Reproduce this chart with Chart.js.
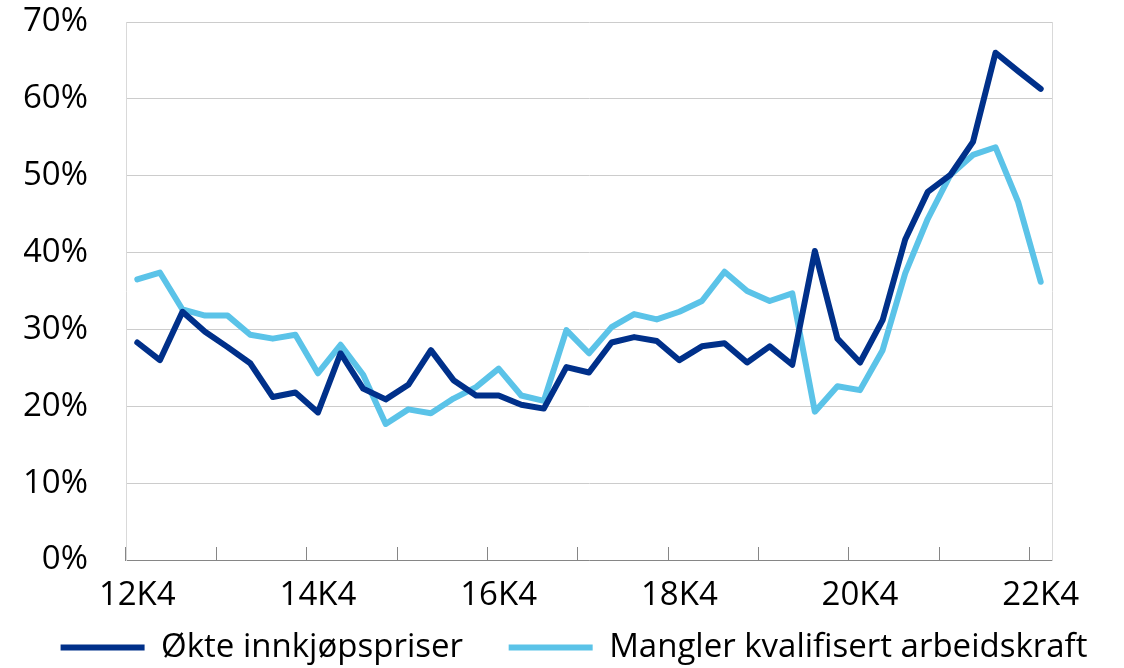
<!DOCTYPE html>
<html lang="no">
<head>
    <meta charset="UTF-8">
    <title>Innkjøpspriser og arbeidskraft</title>
    <script src="https://cdn.jsdelivr.net/npm/chart.js"></script>
    <style>
        body {
            margin: 0;
            background: #fff;
        }
        #wrap {
            width: 1124px;
            height: 668px;
            position: relative;
        }
    </style>
</head>
<body>
<div id="wrap">
    <canvas id="chart"></canvas>
</div>

<script>
    // Quarters 12K4 .. 22K4
    const quarters = [];
    for (let y = 12; y <= 22; y++) {
        for (let q = 1; q <= 4; q++) {
            if ((y === 12 && q < 4) || (y === 22 && q > 4)) continue;
            quarters.push(y + 'K' + q);
        }
    }

    // Andel bedrifter (%)
    const prices = [28.3, 26.0, 32.3, 29.7, 27.7, 25.6, 21.2, 21.8, 19.2, 26.9,
        22.3, 20.9, 22.8, 27.3, 23.4, 21.4, 21.4, 20.2, 19.7, 25.1,
        24.4, 28.3, 29.0, 28.5, 26.0, 27.8, 28.2, 25.7, 27.8, 25.4,
        40.2, 28.8, 25.7, 31.2, 41.7, 47.9, 50.1, 54.4, 66.0, 63.6, 61.3];

    const labour = [36.5, 37.4, 32.6, 31.8, 31.8, 29.3, 28.8, 29.3, 24.3, 28.0,
        24.1, 17.7, 19.6, 19.1, 21.0, 22.5, 24.9, 21.4, 20.7, 29.9,
        26.9, 30.3, 32.0, 31.3, 32.3, 33.7, 37.5, 35.0, 33.7, 34.7,
        19.3, 22.6, 22.1, 27.3, 37.3, 44.4, 50.1, 52.7, 53.7, 46.6, 36.2];

    const yTicks = [0, 10, 20, 30, 40, 50, 60, 70];

    const FONT = '"Open Sans", "Noto Sans", sans-serif';
    const FONT_SIZE = 33;

    Chart.defaults.font.family = FONT;
    Chart.defaults.font.size = FONT_SIZE;
    Chart.defaults.color = '#000';

    // default legend items, with some extra room after the first one
    function legendLabels(chart) {
        const items = Chart.defaults.plugins.legend.labels.generateLabels(chart);
        items[0].text += '   ';
        return items;
    }

    const ctx = document.getElementById('chart').getContext('2d');
    const chart = new Chart(ctx, {
        type: 'line',
        data: {
            labels: quarters,
            datasets: [
                {
                    label: 'Økte innkjøpspriser',
                    data: prices,
                    borderColor: '#00308a',
                    backgroundColor: '#00308a',
                    borderWidth: 6,
                    borderCapStyle: 'round',
                    borderJoinStyle: 'round',
                    pointRadius: 0,
                    tension: 0,
                    fill: false
                },
                {
                    label: 'Mangler kvalifisert arbeidskraft',
                    data: labour,
                    borderColor: '#5bc3e8',
                    backgroundColor: '#5bc3e8',
                    borderWidth: 6,
                    borderCapStyle: 'round',
                    borderJoinStyle: 'round',
                    pointRadius: 0,
                    tension: 0,
                    fill: false
                }
            ]
        },
        options: {
            responsive: true,
            maintainAspectRatio: false,
            animation: false,
            layout: {
                padding: { left: 24, right: 0, top: 22, bottom: -6 }
            },
            plugins: {
                tooltip: { enabled: false },
                legend: {
                    position: 'bottom',
                    labels: {
                        usePointStyle: true,
                        pointStyle: 'line',
                        pointStyleWidth: 84,
                        padding: 20,
                        color: '#000',
                        font: { size: FONT_SIZE },
                        generateLabels: legendLabels
                    }
                }
            },
            scales: {
                x: {
                    offset: true,
                    grid: {
                        offset: true,
                        drawOnChartArea: false,
                        drawTicks: true,
                        tickLength: -13,
                        tickColor: (c) => (c.index % 4 === 0 ? '#868686' : 'rgba(0,0,0,0)')
                    },
                    border: { color: '#868686', width: 1 },
                    ticks: {
                        autoSkip: false,
                        maxRotation: 0,
                        padding: 29,
                        callback: (v, i) => (i % 8 === 0 ? quarters[i] : '')
                    },
                    afterFit: (s) => {
                        s.height = 51;
                        s.paddingLeft = 0;
                        s.paddingRight = 0;
                    }
                },
                y: {
                    min: 0,
                    max: 70,
                    afterBuildTicks: (s) => { s.ticks = yTicks.map(v => ({ value: v })); },
                    grid: { color: '#cccccc', drawTicks: false },
                    border: { color: '#d9d9d9' },
                    ticks: {
                        padding: 38,
                        callback: (v) => v + '%'
                    },
                    afterFit: (s) => {
                        s.width = 102;
                        s.paddingTop = 0;
                        s.paddingBottom = 0;
                    }
                },
                frame: {
                    position: 'right',
                    display: true,
                    grid: { drawOnChartArea: false, drawTicks: false },
                    border: { color: '#d9d9d9' },
                    ticks: { display: false },
                    afterFit: (s) => {
                        s.width = 72;
                        s.paddingTop = 0;
                        s.paddingBottom = 0;
                    }
                }
            }
        }
    });
</script>
</body>
</html>
